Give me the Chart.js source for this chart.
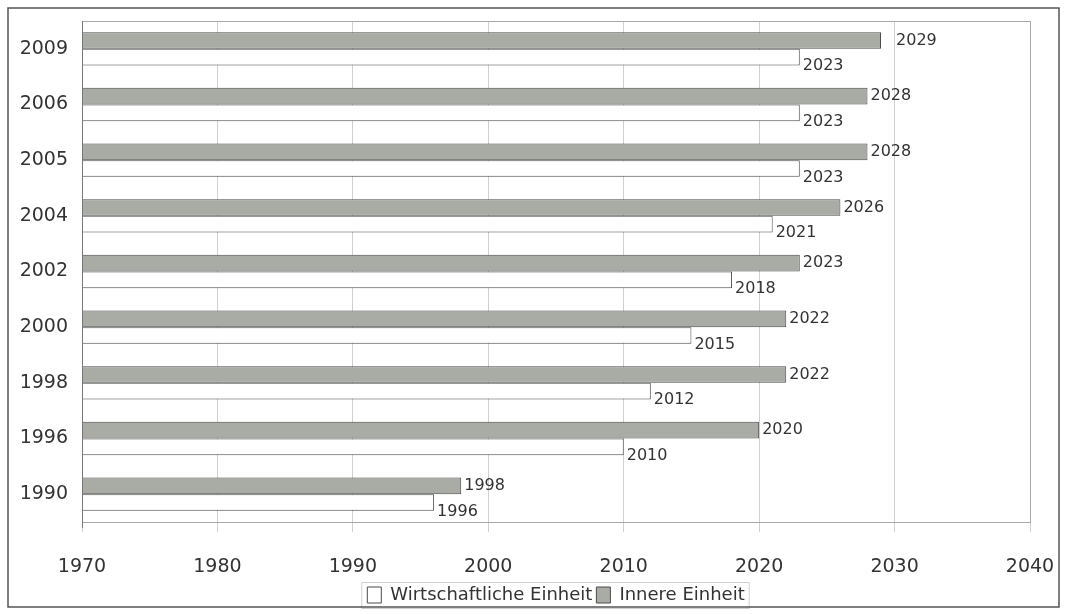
<!DOCTYPE html>
<html>
<head>
<meta charset="utf-8">
<script src="https://cdn.jsdelivr.net/npm/chart.js@4"></script>
<style>
  html, body { margin: 0; padding: 0; background: #fff; }
  #wrap { width: 1065px; height: 614px; }
</style>
</head>
<body>
<div id="wrap"><canvas id="chart" width="1065" height="614"></canvas></div>
<script>
// Jahr der Prognose
var categories = ['2009', '2006', '2005', '2004', '2002', '2000', '1998', '1996', '1990'];
// erwartetes Jahr der inneren Einheit
var innere = [2029, 2028, 2028, 2026, 2023, 2022, 2022, 2020, 1998];
// erwartetes Jahr der wirtschaftlichen Einheit
var wirtschaftliche = [2023, 2023, 2023, 2021, 2018, 2015, 2012, 2010, 1996];
var xTicks = [1970, 1980, 1990, 2000, 2010, 2020, 2030, 2040];

var FONT = '"DejaVu Sans", Verdana, sans-serif';

// Rahmen, Plotbereich und Beschriftungen der Balken
var extras = {
    id: 'extras',
    afterDraw: function (chart) {
        var ctx = chart.ctx;
        var a = chart.chartArea;
        ctx.save();
        // Plotbereich
        ctx.strokeStyle = '#a8a8a8';
        ctx.lineWidth = 1;
        ctx.strokeRect(a.left + 0.5, a.top + 0.5, a.right - a.left, a.bottom - a.top);
        ctx.strokeStyle = '#777';
        ctx.beginPath();
        ctx.moveTo(a.left + 0.5, a.top);
        ctx.lineTo(a.left + 0.5, a.bottom + 6);
        ctx.stroke();
        // Werte an den Balken
        ctx.fillStyle = '#333';
        ctx.font = '16px ' + FONT;
        ctx.textBaseline = 'middle';
        ctx.textAlign = 'left';
        chart.data.datasets.forEach(function (ds, di) {
            var meta = chart.getDatasetMeta(di);
            meta.data.forEach(function (bar, i) {
                var dx = (di === 0 && i === 0) ? 15 : 3;
                var dy = di === 0 ? 0 : 9;
                ctx.fillText(String(ds.data[i]), bar.x + dx, bar.y + dy);
            });
        });
        // Legendenrahmen
        var boxes = chart.legend.legendHitBoxes;
        if (boxes && boxes.length) {
            var l = Math.min.apply(null, boxes.map(function (b) { return b.left; })) - 6;
            var r = Math.max.apply(null, boxes.map(function (b) { return b.left + b.width; })) + 4;
            var t = boxes[0].top - 4;
            var h = boxes[0].height + 8;
            ctx.strokeStyle = '#d0d0d0';
            ctx.strokeRect(l + 0.5, t + 0.5, r - l, h);
        }
        // Gesamtrahmen
        ctx.strokeStyle = '#555';
        ctx.lineWidth = 1.5;
        ctx.strokeRect(8, 8, chart.width - 14, chart.height - 15);
        ctx.restore();
    }
};

var ctx = document.getElementById('chart').getContext('2d');
var myChart = new Chart(ctx, {
    type: 'bar',
    data: {
        labels: categories,
        datasets: [{
            label: 'Innere Einheit',
            data: innere,
            backgroundColor: '#a9aba5',
            borderColor: '#4a4a4a',
            borderWidth: 1
        }, {
            label: 'Wirtschaftliche Einheit',
            data: wirtschaftliche,
            backgroundColor: '#ffffff',
            borderColor: '#4a4a4a',
            borderWidth: 1
        }]
    },
    options: {
        indexAxis: 'y',
        responsive: false,
        animation: false,
        layout: {
            padding: { left: 12, right: 35, top: 21, bottom: 0 }
        },
        datasets: {
            bar: { categoryPercentage: 0.6, barPercentage: 1.0 }
        },
        scales: {
            x: {
                min: 1970,
                max: 2040,
                afterBuildTicks: function (scale) {
                    scale.ticks = xTicks.map(function (v) { return { value: v }; });
                },
                ticks: {
                    color: '#333',
                    font: { family: FONT, size: 19 },
                    padding: 24,
                    maxRotation: 0,
                    callback: function (v) { return String(v); }
                },
                grid: { color: '#d0d0d0', tickLength: 10, drawTicks: true },
                border: { color: '#a8a8a8' },
                afterFit: function (scale) {
                    scale.height = 60;
                    scale.paddingRight = 0;
                    scale.paddingLeft = 0;
                }
            },
            y: {
                ticks: {
                    color: '#333',
                    font: { family: FONT, size: 19 },
                    padding: 6
                },
                grid: { display: false },
                border: { color: '#777' },
                afterFit: function (scale) { scale.width = 70; }
            }
        },
        plugins: {
            legend: {
                position: 'bottom',
                fullSize: false,
                reverse: true,
                labels: {
                    color: '#333',
                    font: { family: FONT, size: 18 },
                    boxWidth: 14,
                    boxHeight: 16,
                    padding: 4
                }
            },
            tooltip: { enabled: false }
        }
    },
    plugins: [extras]
});
</script>
</body>
</html>
